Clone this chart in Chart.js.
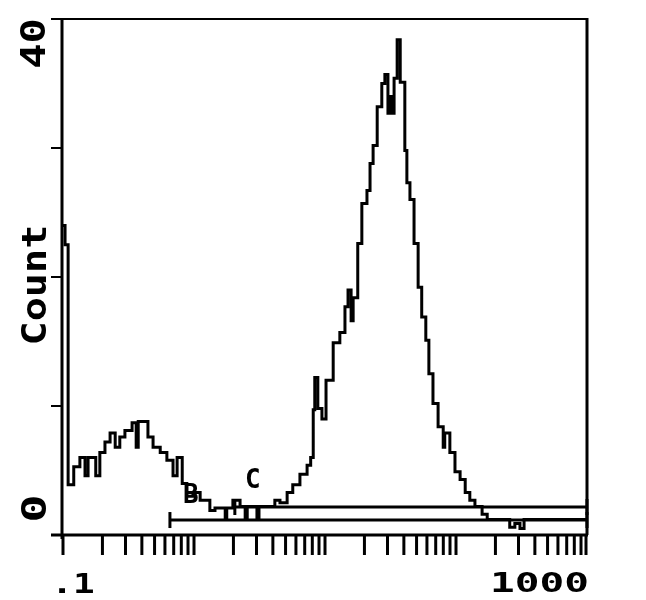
<!DOCTYPE html>
<html><head><meta charset="utf-8">
<script src="https://cdn.jsdelivr.net/npm/chart.js@4/dist/chart.umd.min.js"></script>
<style>html,body{margin:0;padding:0;background:#fff}#wrap{width:646px;height:600px;position:relative}</style>
</head><body><div id="wrap"><canvas id="c" width="646" height="600"></canvas></div>
<script>
// Histogram channels (0..1024 over 4 log decades, 0.1 to 1000) and counts
const channels = [0,4,10,21,33,43,49,64,72,82,92,102,111,121,135,143,147,166,176,190,203,215,223,233,242,254,268,287,297,317,320,332,346,356,360,379,383,414,424,438,449,463,477,484,489,492,498,506,514,528,541,551,557,563,567,576,584,594,600,606,614,623,629,635,639,643,647,653,659,668,672,678,686,694,701,709,715,723,733,743,746,756,766,776,786,795,805,819,829,873,883,893,901,1024];
const counts   = [24.0,22.5,3.9,5.3,6.0,4.6,6.0,4.6,6.4,7.2,7.9,6.8,7.6,8.1,8.7,6.8,8.8,7.6,6.8,6.4,5.8,4.6,6.0,4.0,3.0,3.3,2.7,1.9,2.1,1.2,2.1,2.7,2.2,1.2,2.2,1.2,2.2,2.7,2.5,3.3,3.9,4.7,5.4,6.0,9.7,12.2,9.8,9.0,12.0,14.9,15.7,17.7,19.0,16.6,18.4,22.6,25.7,26.7,28.8,30.2,33.2,35.0,35.7,32.7,34.0,32.7,35.4,38.4,35.1,29.8,27.3,26.0,22.6,19.2,16.9,15.1,12.5,10.2,8.4,6.8,7.9,6.4,4.9,4.3,3.3,2.7,2.2,1.6,1.2,0.6,0.9,0.5,1.2,1.2];

const xMin = 0.1, xMax = 1000;
const yMin = 0, yMax = 40;
const xTickLabels = ['.1', '1000'];
const yTickValues = [0, 10, 20, 30, 40];
const yTickLabels = ['0', '40'];
const yTitle = 'Count';

// Region markers
const markerNames = ['B', 'C'];
const markerStart = [0.655, 2.05];
const markerEnd = [1000, 1000];
const markerLevel = [1.16, 2.17];

const toIntensity = ch => xMin * Math.pow(10, ch / 256);
const histPoints = channels.map((c, i) => ({x: toIntensity(c), y: counts[i]}));

const markerSets = markerNames.map((n, i) => ({
  label: n,
  data: [{x: markerStart[i], y: markerLevel[i]}, {x: markerEnd[i], y: markerLevel[i]}],
  borderColor: '#000', borderWidth: 3,
  pointStyle: 'line', pointRotation: 90, pointRadius: 8,
  pointBorderWidth: 3, pointBorderColor: '#000', pointBackgroundColor: '#000',
  clip: false, tension: 0
}));

const FONT = '"DejaVu Sans Mono", monospace';

function drawText(ctx, txt, x, y, sizePx, inkWidth, align, rotate) {
  ctx.save();
  ctx.font = 'bold ' + sizePx + 'px ' + FONT;
  const m = ctx.measureText(txt);
  const w = m.actualBoundingBoxLeft + m.actualBoundingBoxRight;
  const s = inkWidth / w;
  ctx.translate(x, y);
  if (rotate) ctx.rotate(-Math.PI / 2);
  ctx.scale(s, 1);
  ctx.textBaseline = 'alphabetic';
  ctx.textAlign = 'left';
  let ox;
  if (align === 'left') ox = m.actualBoundingBoxLeft;
  else if (align === 'right') ox = -m.actualBoundingBoxRight;
  else ox = (m.actualBoundingBoxLeft - m.actualBoundingBoxRight) / 2;
  ctx.fillStyle = '#000';
  ctx.fillText(txt, ox, 0);
  ctx.restore();
}

const framePlugin = {
  id: 'frame',
  afterDatasetsDraw(chart) {
    const ctx = chart.ctx;
    const xs = chart.scales.x, ys = chart.scales.y;
    const L = xs.getPixelForValue(xMin), R = xs.getPixelForValue(xMax);
    const T = ys.getPixelForValue(yMax), B = ys.getPixelForValue(yMin);
    ctx.save();
    ctx.strokeStyle = '#000';
    ctx.lineCap = 'butt';
    const ln = (x1, y1, x2, y2, w) => { ctx.lineWidth = w; ctx.beginPath(); ctx.moveTo(x1, y1); ctx.lineTo(x2, y2); ctx.stroke(); };
    // box
    ln(L - 1, T - 1, L - 1, B + 4, 3);
    ln(R, T - 1, R, B, 3);
    ln(L - 12, T, R + 1, T, 2);
    ln(L - 12, B, R + 1, B, 3);
    // y ticks
    yTickValues.forEach(v => { const y = ys.getPixelForValue(v); ln(L - 12, y, L, y, 2); });
    // x ticks (log decades)
    for (let d = -1; d <= 2; d++) {
      for (let k = 1; k <= 9; k++) {
        const v = k * Math.pow(10, d);
        const x = xs.getPixelForValue(v);
        ln(x, B, x, B + 20, 3);
      }
    }
    ln(R - 1, B, R - 1, B + 20, 3);
    ctx.restore();

    // tick labels
    drawText(ctx, xTickLabels[0], L - 5, B + 58, 27, 35, 'left', false);
    drawText(ctx, xTickLabels[1], R, B + 57, 27, 94, 'right', false);
    drawText(ctx, yTickLabels[1], 45, T + 25, 33, 47, 'center', true);
    drawText(ctx, yTickLabels[0], 46, B - 26, 33, 24, 'center', true);
    drawText(ctx, yTitle, 46, (T + B) / 2 + 8, 33, 116, 'center', true);

    // marker labels
    const offs = [[21, -17], [18, -19]];
    markerNames.forEach((n, i) => {
      const x = xs.getPixelForValue(markerStart[i]) + offs[i][0];
      const y = ys.getPixelForValue(markerLevel[i]) + offs[i][1];
      ctx.save();
      ctx.font = 'bold 26px ' + FONT;
      ctx.textAlign = 'center';
      ctx.textBaseline = 'alphabetic';
      ctx.fillStyle = '#000';
      ctx.fillText(n, x, y);
      ctx.restore();
    });
  }
};

new Chart(document.getElementById('c').getContext('2d'), {
  type: 'line',
  data: {
    datasets: [{
      label: 'Count',
      data: histPoints,
      stepped: true,
      borderColor: '#000',
      borderWidth: 3,
      pointRadius: 0,
      fill: false,
      clip: false
    }].concat(markerSets)
  },
  options: {
    responsive: false,
    animation: false,
    devicePixelRatio: 1,
    layout: {padding: {left: 63, right: 59, top: 19, bottom: 65}},
    plugins: {legend: {display: false}, tooltip: {enabled: false}},
    scales: {
      x: {type: 'logarithmic', min: xMin, max: xMax, display: false},
      y: {type: 'linear', min: yMin, max: yMax, display: false}
    }
  },
  plugins: [framePlugin]
});
</script>
</body></html>
